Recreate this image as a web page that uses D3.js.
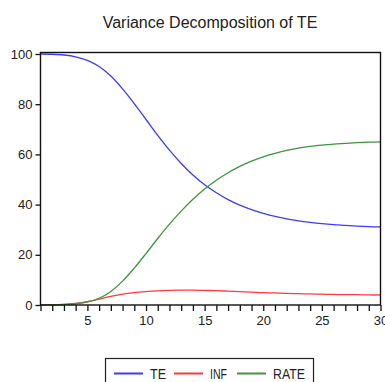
<!DOCTYPE html>
<html>
<head>
<meta charset="utf-8">
<script src="https://cdn.jsdelivr.net/npm/d3@7"></script>
<style>
  body { margin: 0; background: #fff; }
  svg { display: block; font-family: Arial, "Liberation Sans", sans-serif; }
</style>
</head>
<body>
<div id="chart"></div>
<script>
// DATA
const periods = d3.range(1, 31);
const teValues = [100, 99.9, 99.6, 98.9, 97.5, 95.0, 91.2, 86.1, 80.2, 73.9,
                  67.6, 61.7, 56.4, 51.8, 47.9, 44.7, 42.0, 39.8, 38.0, 36.5,
                  35.3, 34.3, 33.5, 32.9, 32.4, 32.0, 31.7, 31.4, 31.2, 31.1];
const infValues = [0, 0.05, 0.2, 0.6, 1.3, 2.3, 3.4, 4.3, 4.9, 5.3,
                   5.6, 5.8, 5.9, 5.9, 5.8, 5.7, 5.5, 5.3, 5.1, 4.9,
                   4.8, 4.6, 4.5, 4.4, 4.3, 4.2, 4.1, 4.1, 4.0, 4.0];
const rateValues = [0, 0.05, 0.2, 0.5, 1.2, 2.7, 5.4, 9.5, 14.7, 20.5,
                    26.5, 32.2, 37.4, 42.1, 46.2, 49.7, 52.7, 55.2, 57.3, 59.0,
                    60.4, 61.6, 62.5, 63.2, 63.7, 64.1, 64.4, 64.7, 64.9, 65.0];
const seriesNames = ["TE", "INF", "RATE"];
const yTicks = [0, 20, 40, 60, 80, 100];

const colors = { TE: "#3b3bff", INF: "#ff3a3a", RATE: "#3c963c" };
const series = [
  { name: "TE", values: teValues },
  { name: "INF", values: infValues },
  { name: "RATE", values: rateValues }
];

// SVG
const width = 385;
const height = 382;
const svg = d3.select("#chart").append("svg")
    .attr("width", width)
    .attr("height", height);

// SCALES
const x = d3.scaleLinear().domain([1, 30]).range([40.5, 380.5]);
const y = d3.scaleLinear().domain([0, 100]).range([305, 54]);

// title
svg.append("text")
    .attr("x", 210)
    .attr("y", 28)
    .attr("text-anchor", "middle")
    .attr("font-size", 16)
    .attr("fill", "#222")
    .text("Variance Decomposition of TE");

// lines
const line = d3.line()
    .x((d, i) => x(periods[i]))
    .y(d => y(d))
    .curve(d3.curveCatmullRom);

svg.append("g")
  .selectAll("path")
  .data(series)
  .enter().append("path")
    .attr("fill", "none")
    .attr("stroke", d => colors[d.name])
    .attr("stroke-width", 1.3)
    .attr("d", d => line(d.values));

// frame
svg.append("rect")
    .attr("x", x(1))
    .attr("y", 52.5)
    .attr("width", x(30) - x(1))
    .attr("height", y(0) - 52.5)
    .attr("fill", "none")
    .attr("stroke", "#111")
    .attr("stroke-width", 1.4);

// AXES
const yAxis = svg.append("g")
    .attr("transform", "translate(" + x(1) + ",0)")
    .call(d3.axisLeft(y).tickValues(yTicks).tickSize(5).tickSizeOuter(0).tickPadding(3));
const xAxis = svg.append("g")
    .attr("transform", "translate(0," + y(0) + ")")
    .call(d3.axisBottom(x).tickValues(periods).tickSize(6).tickSizeOuter(0).tickPadding(5)
      .tickFormat(d => d % 5 === 0 ? d : ""));

[yAxis, xAxis].forEach(a => {
  a.select(".domain").remove();
  a.selectAll(".tick line").attr("stroke", "#111").attr("stroke-width", 1.3);
  a.selectAll(".tick text")
    .attr("font-size", 13)
    .attr("font-family", "Arial, 'Liberation Sans', sans-serif")
    .attr("fill", "#222");
});

// legend
const legend = svg.append("g");
legend.append("rect")
    .attr("x", 105.5)
    .attr("y", 358.5)
    .attr("width", 208)
    .attr("height", 40)
    .attr("fill", "#fff")
    .attr("stroke", "#222")
    .attr("stroke-width", 1.2);

let lx = 114;
const textWidths = { TE: 16, INF: 17, RATE: 32 };
seriesNames.forEach(name => {
  legend.append("line")
      .attr("x1", lx).attr("x2", lx + 29)
      .attr("y1", 373.5).attr("y2", 373.5)
      .attr("stroke", colors[name])
      .attr("stroke-width", 2);
  legend.append("text")
      .attr("x", lx + 36)
      .attr("y", 379)
      .attr("font-size", 14)
      .attr("fill", "#222")
      .attr("textLength", textWidths[name])
      .attr("lengthAdjust", "spacingAndGlyphs")
      .text(name);
  lx += 36 + textWidths[name] + 8 + (name === "INF" ? 2 : 0);
});
</script>
</body>
</html>
